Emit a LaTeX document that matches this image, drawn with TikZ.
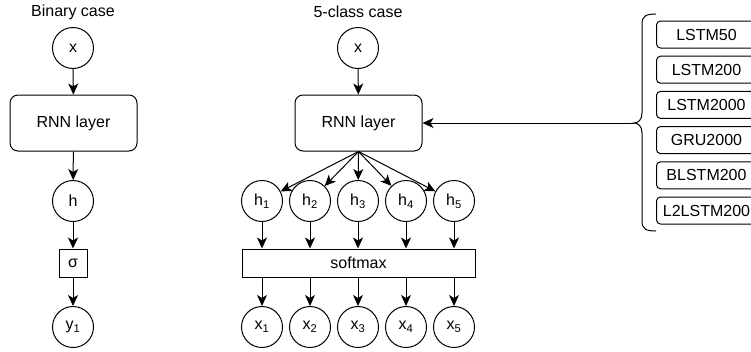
\documentclass[tikz,border=0pt]{standalone}
\usepackage{fontspec}
\setmainfont{Liberation Sans}
\usetikzlibrary{arrows.meta}
\begin{document}
\begin{tikzpicture}[x=1pt,y=-1pt,
  every node/.style={font=\fontsize{16}{19}\selectfont},
  circ/.style={draw,circle,line width=1pt,minimum size=41pt,inner sep=0pt},
  rnnbox/.style={draw,rectangle,rounded corners=8pt,line width=1pt,minimum width=127pt,minimum height=56pt},
  sqbox/.style={draw,rectangle,line width=1pt,minimum width=28pt,minimum height=28pt,inner sep=0pt},
  smbox/.style={draw,rectangle,line width=1pt,minimum width=233pt,minimum height=28pt,inner sep=0pt},
  optbox/.style={draw,rectangle,rounded corners=4pt,line width=1pt,minimum width=100pt,minimum height=27pt,inner sep=0pt,anchor=west},
  lbl/.style={inner sep=0pt},
  arr/.style={line width=1pt,-{Stealth[length=11pt,width=10pt,inset=3pt]}}
]
\useasboundingbox (0,0) rectangle (751,351);
% Binary case
\node[lbl] (t1) at (73,12) {Binary case};
\node[circ] (bx) at (73,48) {x};
\node[rnnbox] (brnn) at (73.5,123) {RNN layer};
\node[circ] (bh) at (73,201) {h};
\node[sqbox] (bs) at (73,263) {σ};
\node[circ] (by) at (73,327) {y\textsubscript{1}};
\draw[arr] (bx) -- (brnn);
\draw[arr] (brnn) -- (bh);
\draw[arr] (bh) -- (bs);
\draw[arr] (bs) -- (by);
% 5-class case
\node[lbl] (t2) at (358,12) {5-class case};
\node[circ] (cx) at (358,48) {x};
\node[rnnbox] (crnn) at (358.5,123) {RNN layer};
\node[smbox] (sm) at (358.5,263) {softmax};
\foreach \i/\xx in {1/262,2/310,3/358,4/406,5/454}{
  \node[circ] (h\i) at (\xx,201) {h\textsubscript{\i}};
  \node[circ] (x\i) at (\xx,327) {x\textsubscript{\i}};
  \draw[arr] (crnn.south) -- (h\i);
  \draw[arr] (h\i) -- (h\i |- sm.north);
  \draw[arr] (x\i |- sm.south) -- (x\i);
}
\draw[arr] (cx) -- (crnn);
% brace and options
\draw[line width=1pt] (656,14) .. controls (646,14) and (642,16) .. (642,24) -- (642,113)
  .. controls (642,120) and (638,123) .. (634,123)
  .. controls (638,123) and (642,126) .. (642,133) -- (642,221)
  .. controls (642,229) and (646,231) .. (656,231);
\coordinate (tip) at (634,123);
\draw[arr] (tip) -- (crnn.east);
\node[optbox,text width=96pt,align=center] (o1) at (656,34.5) {LSTM50\hspace*{4pt}};
\node[optbox,text width=96pt,align=center] (o2) at (656,69.7) {LSTM200\hspace*{4pt}};
\node[optbox,text width=96pt,align=center] (o3) at (656,104.9) {LSTM2000\hspace*{4pt}};
\node[optbox,text width=96pt,align=center] (o4) at (656,140.1) {GRU2000\hspace*{4pt}};
\node[optbox,text width=96pt,align=center] (o5) at (656,175.3) {BLSTM200\hspace*{4pt}};
\node[optbox,text width=96pt,align=center] (o6) at (656,210.5) {L2LSTM200\hspace*{4pt}};
\end{tikzpicture}
\end{document}
